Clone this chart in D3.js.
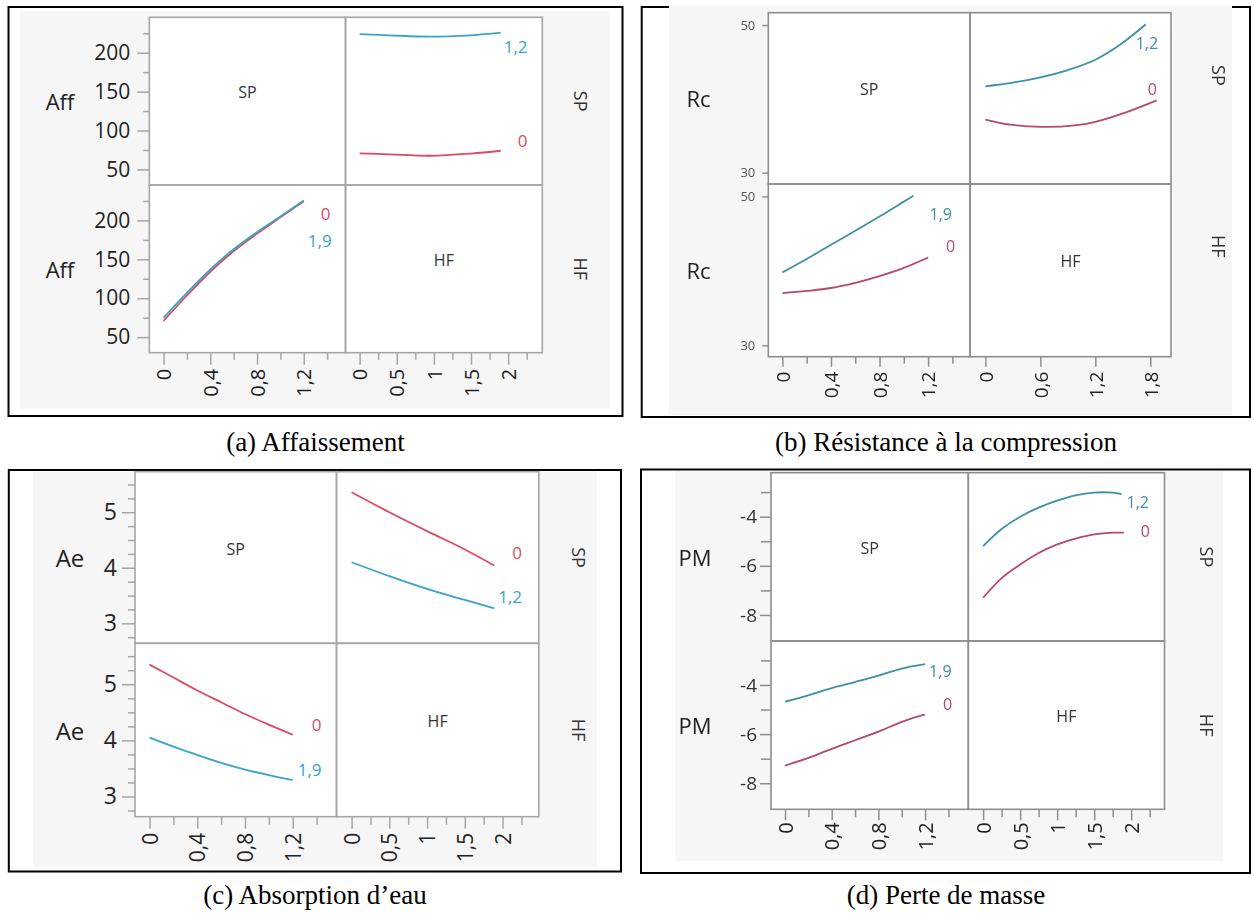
<!DOCTYPE html>
<html>
<head>
<meta charset="utf-8">
<script src="https://cdn.jsdelivr.net/npm/d3@7"></script>
<style>
  body { margin: 0; background: #fff; }
  svg { display: block; }
</style>
</head>
<body>
<svg id="fig" width="1254" height="913"></svg>
<script>
// ---------- factor levels that label each curve ----------
const spLevels = ["0", "1,2"];   // superplastifiant levels (curves vs HF)
const hfLevels = ["0", "1,9"];   // HF levels (curves vs SP)

// ---------- axis tick values ----------
const spMajor = [0, 0.4, 0.8, 1.2];
const spMinor = [0.2, 0.6, 1.0, 1.4];
const hfMajor = [0, 0.5, 1, 1.5, 2];
const hfMinor = [0.25, 0.75, 1.25, 1.75, 2.25];
const hfMajorRc = [0, 0.6, 1.2, 1.8];

const affYTicks = [50, 100, 150, 200];
const affYMinor = [75, 125, 175, 225];
const rcYTicks = [30, 50];
const aeYTicks = [3, 4, 5];
const aeYMinor = [2.75, 3.25, 3.5, 3.75, 4.25, 4.5, 4.75, 5.25, 5.5];
const pmYTicks = [-8, -6, -4];
const pmYMinor = [-7, -5, -3];

// ---------- (a) Affaissement : [factor value, response] ----------
const affVsHF_SP0  = [[0, 70.7], [0.4, 69.4], [0.95, 67.6], [1.5, 70.4], [1.9, 74.0]];
const affVsHF_SP12 = [[0, 224.0], [0.4, 222.4], [0.95, 220.6], [1.5, 222.4], [1.9, 225.7]];
const affVsSP_HF0  = [[0, 71], [0.2, 103.5], [0.4, 134], [0.6, 160.5], [0.8, 183], [1.0, 204], [1.2, 224.5]];
const affVsSP_HF19 = [[0, 75], [0.2, 107], [0.4, 137], [0.6, 163], [0.8, 185], [1.0, 205], [1.2, 225.5]];

// ---------- (b) Résistance à la compression ----------
const rcVsHF_SP0  = [[0, 37.2], [0.27, 36.5], [0.63, 36.2], [1.0, 36.45], [1.2, 36.9], [1.55, 38.25], [1.87, 39.8]];
const rcVsHF_SP12 = [[0, 41.7], [0.3, 42.2], [0.6, 42.9], [0.9, 43.9], [1.2, 45.3], [1.5, 47.6], [1.75, 50.1]];
const rcVsSP_HF0  = [[0, 37.0], [0.2, 37.3], [0.4, 37.7], [0.6, 38.4], [0.8, 39.3], [1.0, 40.4], [1.2, 41.8]];
const rcVsSP_HF19 = [[0, 39.8], [0.2, 41.6], [0.4, 43.5], [0.6, 45.4], [0.8, 47.3], [1.0, 49.3], [1.08, 50.1]];

// ---------- (c) Absorption d'eau ----------
const aeVsHF_SP0  = [[0, 5.36], [0.5, 5.00], [1.0, 4.66], [1.5, 4.33], [1.89, 4.04]];
const aeVsHF_SP12 = [[0, 4.10], [0.5, 3.85], [1.0, 3.62], [1.5, 3.42], [1.89, 3.27]];
const aeVsSP_HF0  = [[0, 5.35], [0.2, 5.12], [0.4, 4.89], [0.6, 4.68], [0.8, 4.47], [1.0, 4.28], [1.2, 4.10]];
const aeVsSP_HF19 = [[0, 4.05], [0.2, 3.89], [0.4, 3.74], [0.6, 3.60], [0.8, 3.48], [1.0, 3.38], [1.2, 3.29]];

// ---------- (d) Perte de masse ----------
const pmVsHF_SP0  = [[0, -7.3], [0.25, -6.5], [0.5, -5.95], [0.75, -5.48], [1.0, -5.13], [1.25, -4.89], [1.5, -4.72], [1.75, -4.65], [1.9, -4.65]];
const pmVsHF_SP12 = [[0, -5.2], [0.25, -4.5], [0.5, -4.0], [0.75, -3.63], [1.0, -3.35], [1.25, -3.13], [1.5, -3.02], [1.75, -3.02], [1.87, -3.08]];
const pmVsSP_HF0  = [[0, -7.28], [0.2, -6.97], [0.4, -6.6], [0.6, -6.25], [0.8, -5.9], [1.0, -5.5], [1.2, -5.2]];
const pmVsSP_HF19 = [[0, -4.68], [0.2, -4.42], [0.4, -4.13], [0.6, -3.88], [0.8, -3.62], [1.0, -3.33], [1.2, -3.15]];

const captions = ["(a) Affaissement", "(b) Résistance à la compression", "(c) Absorption d’eau", "(d) Perte de masse"];

// ---------- drawing ----------
const svg = d3.select("#fig");
const fmt = v => String(v).replace(".", ",");
const SANS = "'Open Sans', 'Noto Sans', sans-serif";

// slight softening used by the two scanned-looking panels
svg.append("defs").append("filter").attr("id", "soft")
  .attr("x", "-5%").attr("y", "-5%").attr("width", "110%").attr("height", "110%")
  .append("feGaussianBlur").attr("stdDeviation", 0.35);

const panels = [
  {
    title: "Aff", caption: captions[0], soft: false,
    box: [8.5, 7, 622.5, 416], gray: [20, 11.6, 610, 409],
    plot: { left: 149.3, mid: 345.5, right: 542.3, top: 17.3, midY: 185, bottom: 352.7 },
    yDomain: [30, 245.5], yTicks: affYTicks, yMinor: affYMinor,
    yMajorLen: 12, yMinorLen: 6, yPad: 7, yFont: 21, yColor: "#222",
    titleX: 60, titleFont: 22,
    spDomain: [-0.122, 1.557], hfDomain: [-0.19, 2.46],
    spTicks: spMajor, spTicksMinor: spMinor, hfTicks: hfMajor, hfTicksMinor: hfMinor,
    xMajorLen: 12, xMinorLen: 7, xPad: 4, xFont: 20,
    hfSeries: [affVsHF_SP0, affVsHF_SP12], spSeries: [affVsSP_HF0, affVsSP_HF19],
    hfLabelOff: [[17, -10.7], [3, 13.3]], spLabelOff: [[17, 12], [4, 40]],
    curveFont: 17, red: "#dc4a62", blue: "#38a4cc", frame: "#a6a6a6",
    rightX: 39, rightDy: [0, 0], captionX: 315.5, captionY: 451
  },
  {
    title: "Rc", caption: captions[1], soft: true,
    box: [641.7, 7, 1250, 417], gray: [669, 6, 1232, 415],
    plot: { left: 768.3, mid: 970, right: 1171, top: 12.7, midY: 184, bottom: 356.7 },
    yDomain: [28.47, 51.67], yTicks: rcYTicks, yMinor: [],
    yMajorLen: 6, yMinorLen: 0, yPad: 7, yFont: 13, yColor: "#555",
    titleX: 698.5, titleFont: 22,
    spDomain: [-0.116, 1.545], hfDomain: [-0.168, 2.026],
    spTicks: spMajor, spTicksMinor: spMinor, hfTicks: hfMajorRc, hfTicksMinor: [],
    xMajorLen: 10, xMinorLen: 7, xPad: 5, xFont: 19,
    hfSeries: [rcVsHF_SP0, rcVsHF_SP12], spSeries: [rcVsSP_HF0, rcVsSP_HF19],
    hfLabelOff: [[-9, -11.7], [-10, 18.7]], spLabelOff: [[18, -11], [16, 18]],
    curveFont: 16, red: "#b54a68", blue: "#3e8fa8", frame: "#8e8e8e",
    rightX: 48, rightDy: [-23, -24], captionX: 946, captionY: 451
  },
  {
    title: "Ae", caption: captions[2], soft: false,
    box: [8.8, 470, 621, 871.5], gray: [33, 471, 597, 867],
    plot: { left: 135, mid: 336.5, right: 538.8, top: 471.7, midY: 643.3, bottom: 816.7 },
    yDomain: [2.64, 5.73], yTicks: aeYTicks, yMinor: aeYMinor,
    yMajorLen: 13, yMinorLen: 7, yPad: 5, yFont: 23, yColor: "#222",
    titleX: 70, titleFont: 24,
    spDomain: [-0.122, 1.567], hfDomain: [-0.2, 2.48],
    spTicks: spMajor, spTicksMinor: spMinor, hfTicks: hfMajor, hfTicksMinor: hfMinor,
    xMajorLen: 12, xMinorLen: 8, xPad: 4, xFont: 21,
    hfSeries: [aeVsHF_SP0, aeVsHF_SP12], spSeries: [aeVsSP_HF0, aeVsSP_HF19],
    hfLabelOff: [[18, -12.7], [4, -11.7]], spLabelOff: [[19, -10], [5, -10.7]],
    curveFont: 17, red: "#dc4a62", blue: "#38a4cc", frame: "#a6a6a6",
    rightX: 40, rightDy: [0, 0], captionX: 315, captionY: 904
  },
  {
    title: "PM", caption: captions[3], soft: true,
    box: [641, 469.5, 1250, 873], gray: [675, 471, 1223, 861],
    plot: { left: 771, mid: 968.3, right: 1164.5, top: 472.7, midY: 641, bottom: 809.3 },
    yDomain: [-9.06, -2.21], yTicks: pmYTicks, yMinor: pmYMinor,
    yMajorLen: 11, yMinorLen: 10, yPad: 3, yFont: 19, yColor: "#333",
    titleX: 695, titleFont: 22,
    spDomain: [-0.12, 1.57], hfDomain: [-0.2, 2.45],
    spTicks: spMajor, spTicksMinor: spMinor, hfTicks: hfMajor, hfTicksMinor: hfMinor,
    xMajorLen: 11, xMinorLen: 8, xPad: 2, xFont: 20,
    hfSeries: [pmVsHF_SP0, pmVsHF_SP12], spSeries: [pmVsSP_HF0, pmVsSP_HF19],
    hfLabelOff: [[17, -2], [5, 8]], spLabelOff: [[18, -10], [4, 7]],
    curveFont: 16, red: "#b54a68", blue: "#3e8fa8", frame: "#8e8e8e",
    rightX: 42.5, rightDy: [0, 0], captionX: 946, captionY: 904
  }
];

function drawPanel(p) {
  const P = p.plot;

  svg.append("rect")
    .attr("x", p.box[0]).attr("y", p.box[1])
    .attr("width", p.box[2] - p.box[0]).attr("height", p.box[3] - p.box[1])
    .attr("fill", "#fff").attr("stroke", "#000").attr("stroke-width", 2);

  const g = svg.append("g");
  if (p.soft) g.attr("filter", "url(#soft)");

  g.append("rect")
    .attr("x", p.gray[0]).attr("y", p.gray[1])
    .attr("width", p.gray[2] - p.gray[0]).attr("height", p.gray[3] - p.gray[1])
    .attr("fill", "#f6f6f6");

  // column scales: left column = SP, right column = HF
  const xSP = d3.scaleLinear().domain(p.spDomain).range([P.left, P.mid]);
  const xHF = d3.scaleLinear().domain(p.hfDomain).range([P.mid, P.right]);
  // row scales: top row and bottom row share the response domain
  const yTop = d3.scaleLinear().domain(p.yDomain).range([P.midY, P.top]);
  const yBot = d3.scaleLinear().domain(p.yDomain).range([P.bottom, P.midY]);

  // white cells
  g.append("rect").attr("x", P.left).attr("y", P.top)
    .attr("width", P.right - P.left).attr("height", P.bottom - P.top).attr("fill", "#fff");

  // y axes (left, one per row)
  [yTop, yBot].forEach(ys => {
    const major = g.append("g").attr("transform", `translate(${P.left},0)`)
      .call(d3.axisLeft(ys).tickValues(p.yTicks).tickSize(p.yMajorLen).tickPadding(p.yPad).tickFormat(fmt));
    major.select(".domain").remove();
    major.selectAll("line").attr("stroke", p.frame).attr("stroke-width", 1.5);
    major.selectAll("text").attr("font-family", SANS).attr("font-size", p.yFont).attr("fill", p.yColor);
    if (p.yMinor.length) {
      const minor = g.append("g").attr("transform", `translate(${P.left},0)`)
        .call(d3.axisLeft(ys).tickValues(p.yMinor).tickSize(p.yMinorLen).tickFormat(""));
      minor.select(".domain").remove();
      minor.selectAll("line").attr("stroke", p.frame).attr("stroke-width", 1.5);
    }
  });

  // x axes (bottom, one per column)
  [[xSP, p.spTicks, p.spTicksMinor], [xHF, p.hfTicks, p.hfTicksMinor]].forEach(([xs, maj, mnr]) => {
    const major = g.append("g").attr("transform", `translate(0,${P.bottom})`)
      .call(d3.axisBottom(xs).tickValues(maj).tickSize(p.xMajorLen).tickFormat(fmt));
    major.select(".domain").remove();
    major.selectAll("line").attr("stroke", p.frame).attr("stroke-width", 1.5);
    major.selectAll("text")
      .attr("transform", "rotate(-90)")
      .attr("x", -(p.xMajorLen + p.xPad)).attr("y", 0).attr("dy", "0.36em")
      .attr("text-anchor", "end")
      .attr("font-family", SANS).attr("font-size", p.xFont).attr("fill", "#222");
    if (mnr.length) {
      const minor = g.append("g").attr("transform", `translate(0,${P.bottom})`)
        .call(d3.axisBottom(xs).tickValues(mnr).tickSize(p.xMinorLen).tickFormat(""));
      minor.select(".domain").remove();
      minor.selectAll("line").attr("stroke", p.frame).attr("stroke-width", 1.5);
    }
  });

  // cell frames
  const cells = [[P.left, P.top, P.mid, P.midY], [P.mid, P.top, P.right, P.midY],
                 [P.left, P.midY, P.mid, P.bottom], [P.mid, P.midY, P.right, P.bottom]];
  g.selectAll(null).data(cells).enter().append("rect")
    .attr("x", d => d[0]).attr("y", d => d[1])
    .attr("width", d => d[2] - d[0]).attr("height", d => d[3] - d[1])
    .attr("fill", "none").attr("stroke", p.frame).attr("stroke-width", 1.6);

  // diagonal factor names
  const inner = [["SP", (P.left + P.mid) / 2, (P.top + P.midY) / 2 - 9],
                 ["HF", (P.mid + P.right) / 2, (P.midY + P.bottom) / 2 - 9]];
  inner.forEach(([t, x, y]) => g.append("text").attr("x", x).attr("y", y)
    .attr("text-anchor", "middle").attr("dominant-baseline", "central")
    .attr("font-family", SANS).attr("font-size", 16).attr("fill", "#333").text(t));

  // response titles on the left, one per row
  [(P.top + P.midY) / 2, (P.midY + P.bottom) / 2].forEach(y => g.append("text")
    .attr("x", p.titleX).attr("y", y).attr("text-anchor", "middle").attr("dominant-baseline", "central")
    .attr("font-family", SANS).attr("font-size", p.titleFont).attr("fill", "#222").text(p.title));

  // row factor names on the right, rotated
  [["SP", (P.top + P.midY) / 2 + p.rightDy[0]], ["HF", (P.midY + P.bottom) / 2 + p.rightDy[1]]]
    .forEach(([t, y]) => g.append("text")
      .attr("transform", `translate(${P.right + p.rightX},${y}) rotate(90)`)
      .attr("text-anchor", "middle").attr("dominant-baseline", "central")
      .attr("font-family", SANS).attr("font-size", 18).attr("fill", "#333").text(t));

  // interaction curves
  const colors = [p.red, p.blue];
  const lineHF = d3.line().x(d => xHF(d[0])).y(d => yTop(d[1])).curve(d3.curveCatmullRom.alpha(0.5));
  const lineSP = d3.line().x(d => xSP(d[0])).y(d => yBot(d[1])).curve(d3.curveCatmullRom.alpha(0.5));

  // top-right cell: response vs HF, one curve per SP level
  p.hfSeries.forEach((s, i) => {
    g.append("path").attr("d", lineHF(s)).attr("fill", "none")
      .attr("stroke", colors[i]).attr("stroke-width", 1.8);
    const e = s[s.length - 1];
    g.append("text").attr("x", xHF(e[0]) + p.hfLabelOff[i][0]).attr("y", yTop(e[1]) + p.hfLabelOff[i][1])
      .attr("dominant-baseline", "central").attr("font-family", SANS).attr("font-size", p.curveFont)
      .attr("fill", colors[i]).text(spLevels[i]);
  });
  // bottom-left cell: response vs SP, one curve per HF level
  p.spSeries.forEach((s, i) => {
    g.append("path").attr("d", lineSP(s)).attr("fill", "none")
      .attr("stroke", colors[i]).attr("stroke-width", 1.8);
    const e = s[s.length - 1];
    g.append("text").attr("x", xSP(e[0]) + p.spLabelOff[i][0]).attr("y", yBot(e[1]) + p.spLabelOff[i][1])
      .attr("dominant-baseline", "central").attr("font-family", SANS).attr("font-size", p.curveFont)
      .attr("fill", colors[i]).text(hfLevels[i]);
  });

  // caption under the panel
  svg.append("text").attr("x", p.captionX).attr("y", p.captionY)
    .attr("text-anchor", "middle")
    .attr("font-family", "'Liberation Serif', 'Times New Roman', serif")
    .attr("font-size", 27).attr("fill", "#000").text(p.caption);
}

panels.forEach(drawPanel);
</script>
</body>
</html>
